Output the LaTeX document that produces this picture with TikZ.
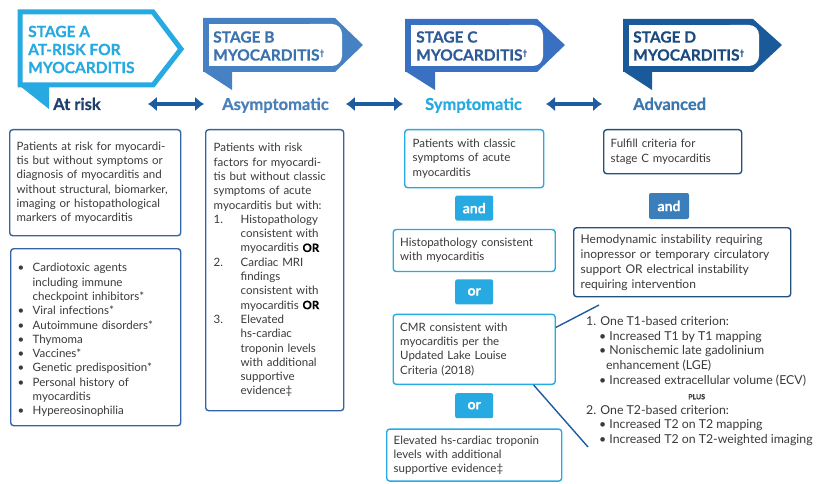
\documentclass[tikz,border=0pt]{standalone}
\usepackage{fontspec}
\setmainfont{Lato}[BoldFeatures={FakeBold=0.5}]
\usepackage{tikz}
\usetikzlibrary{arrows.meta,positioning,backgrounds}
\setlength{\parindent}{0pt}

\definecolor{cyanA}{RGB}{39,170,225}
\definecolor{blueB}{RGB}{70,130,195}
\definecolor{blueC}{RGB}{58,112,194}
\definecolor{blueD}{RGB}{26,90,155}
\definecolor{txtB}{RGB}{60,115,175}
\definecolor{txtC}{RGB}{47,92,153}
\definecolor{txtD}{RGB}{28,75,128}
\definecolor{navy}{RGB}{31,63,110}
\definecolor{asymblue}{RGB}{74,128,184}
\definecolor{advblue}{RGB}{59,119,175}
\definecolor{arrowblue}{RGB}{29,92,158}
\definecolor{boxblue}{RGB}{52,100,166}
\definecolor{boxnavy}{RGB}{34,80,127}
\definecolor{bodytext}{RGB}{58,58,58}
\definecolor{andD}{RGB}{58,127,188}

\newcommand\bodysize{\fontsize{11.5}{14.3}\selectfont}
\newcommand\hangitem[2]{\par\noindent\hangindent=#1\hangafter=1\makebox[#1][l]{#2}}
\newcommand\nl{\hfil\break}
\newcommand\dagsup[1]{\raisebox{5pt}{\fontsize{8}{8}\selectfont #1}}

\tikzset{
  card/.style={draw, rounded corners=3pt, line width=1.4pt, fill=white,
    anchor=north west, inner xsep=7pt, inner ysep=2pt, align=left,
    text=bodytext, font=\bodysize},
  joiner/.style={fill=cyanA, rounded corners=2pt, text=white,
    font=\fontsize{14}{14}\selectfont\bfseries, minimum width=38pt,
    minimum height=25pt, inner sep=0pt},
  stagetext/.style={anchor=west, inner sep=0pt, align=left,
    font=\fontsize{15.5}{18}\selectfont\bfseries},
  phase/.style={anchor=west, inner sep=0pt, text height=12pt, text depth=0pt,
    font=\fontsize{16.5}{16.5}\selectfont\bfseries},
  dbl/.style={arrowblue, line width=4.5pt,
    {Latex[length=9pt,width=15pt]}-{Latex[length=9pt,width=15pt]}},
  pointer/.style={arrowblue, line width=1.4pt},
}

\begin{document}
\begin{tikzpicture}[x=1pt,y=-1pt]
\path[fill=white,use as bounding box] (0,0) rectangle (830,484);

% stage banners
\draw[cyanA, line width=5pt, fill=white] (20,12) -- (153,12) -- (181,49) -- (153,85) -- (20,85) -- cycle;
\fill[cyanA] (17.5,84) -- (49,84) -- (49,109) -- cycle;
\node[stagetext, text=cyanA] (stA) at (28,49.5) {STAGE A\\AT-RISK FOR\\MYOCARDITIS};

\fill[blueB] (203,18) -- (335,18) -- (363,45) -- (335,72) -- (203,72) -- cycle;
\fill[blueB] (203,71) -- (232,71) -- (232,90) -- cycle;
\fill[white] (209,24) rectangle (320,66);
\fill[white, rounded corners=10pt] (300,24) rectangle (342,66);
\node[stagetext, text=txtB] (stB) at (213,46) {STAGE B\\MYOCARDITIS\dagsup{†}};

\fill[blueC] (405,19) -- (537,19) -- (565,45) -- (537,72) -- (405,72) -- cycle;
\fill[blueC] (405,71) -- (435,71) -- (435,90) -- cycle;
\fill[white] (411,25) rectangle (520,66);
\fill[white, rounded corners=10pt] (500,25) rectangle (543,66);
\node[stagetext, text=txtC] (stC) at (416,46) {STAGE C\\MYOCARDITIS\dagsup{†}};

\fill[blueD] (623,19) -- (753,19) -- (782,45) -- (753,72) -- (623,72) -- cycle;
\fill[blueD] (623,71) -- (652,71) -- (652,90) -- cycle;
\fill[white] (629,25) rectangle (740,66);
\fill[white, rounded corners=10pt] (720,25) rectangle (759,66);
\node[stagetext, text=txtD] (stD) at (633,46) {STAGE D\\MYOCARDITIS\dagsup{†}};

% phases
\node[phase, text=navy] (atrisk) at (53,104) {At risk};
\node[phase, text=asymblue] (asym) at (222,104) {Asymptomatic};
\node[phase, text=cyanA] (sym) at (425,104) {Symptomatic};
\node[phase, text=advblue] (adv) at (633,104) {Advanced};
\draw[dbl] ([xshift=47pt]atrisk.east) -- ([xshift=-18pt]asym.west);
\draw[dbl] ([xshift=17pt]asym.east) -- ([xshift=-22pt]sym.west);
\draw[dbl] ([xshift=24pt]sym.east) -- ([xshift=-31pt]adv.west);

% stage A
\node[card, draw=boxblue, text width=157pt, minimum height=106pt] (a1) at (9,129)
  {\mbox{Patients at risk for myocardi-}\\\mbox{tis but without symptoms or}\\\mbox{diagnosis of myocarditis and}\\\mbox{without structural, biomarker,}\\\mbox{imaging or histopathological}\\markers of myocarditis};
\node[card, draw=boxblue, text width=156pt, minimum height=177pt] (a2) at (10,248)
  {\hangitem{15pt}{\textbullet}Cardiotoxic agents\nl including immune\nl checkpoint inhibitors*
   \hangitem{15pt}{\textbullet}Viral infections*
   \hangitem{15pt}{\textbullet}Autoimmune disorders*
   \hangitem{15pt}{\textbullet}Thymoma
   \hangitem{15pt}{\textbullet}Vaccines*
   \hangitem{15pt}{\textbullet}Genetic predisposition*
   \hangitem{15pt}{\textbullet}Personal history of\nl myocarditis
   \hangitem{15pt}{\textbullet}Hypereosinophilia\par};

% stage B
\node[card, draw=boxblue, inner xsep=8pt, text width=122pt, minimum height=281pt] (b1) at (205,129)
  {Patients with risk\\factors for myocardi-\\tis but without classic\\symptoms of acute\\myocarditis but with:
   \hangitem{27pt}{1.}Histopathology\nl consistent with\nl myocarditis \textbf{\color{black}OR}
   \hangitem{27pt}{2.}Cardiac MRI\nl findings\nl consistent with\nl myocarditis \textbf{\color{black}OR}
   \hangitem{27pt}{3.}Elevated\nl hs-cardiac\nl troponin levels\nl with additional\nl supportive\nl evidence‡\par};

% stage C
\node[card, draw=cyanA, inner xsep=8pt, text width=123pt, minimum height=58pt] (c1) at (404,129)
  {Patients with classic\\symptoms of acute\\myocarditis};
\node[joiner] (andC) [below=7pt of c1] {and};
\node[card, draw=cyanA, text width=148pt, minimum height=42pt] (c2) [below=8pt of andC]
  {Histopathology consistent\\with myocarditis};
\node[joiner] (orC) [below=7pt of c2] {or};
\node[card, draw=cyanA, text width=148pt, minimum height=70pt] (c3) [below=9pt of orC]
  {CMR consistent with\\myocarditis per the\\Updated Lake Louise\\Criteria (2018)};
\node[joiner] (orCC) [below=8pt of c3] {or};
\node[card, draw=cyanA, text width=161pt, minimum height=52pt] (c4) [below=10pt of orCC]
  {Elevated hs-cardiac troponin\\levels with additional\\supportive evidence‡};
\begin{scope}[on background layer]
  \draw[arrowblue, line width=4pt] (c1) -- (andC) -- (c2) -- (orC) -- (c3) -- (orCC) -- (c4);
\end{scope}

% CMR criteria
\node[anchor=north west, inner sep=0pt, align=left, text=bodytext,
  font=\fontsize{12.3}{14.8}\selectfont] (crit) at (586,316)
  {1. One T1-based criterion:\\
   \hspace*{13pt}\textbullet\ Increased T1 by T1 mapping\\
   \hspace*{13pt}\textbullet\ Nonischemic late gadolinium\\
   \hspace*{20pt}enhancement (LGE)\\
   \hspace*{13pt}\textbullet\ Increased extracellular volume (ECV)\\
   \hspace*{102pt}{\fontsize{7}{7}\selectfont\bfseries PLUS}\\
   2. One T2-based criterion:\\
   \hspace*{13pt}\textbullet\ Increased T2 on T2 mapping\\
   \hspace*{13pt}\textbullet\ Increased T2 on T2-weighted imaging};
\coordinate (t1end) at (599,305);
\coordinate (t2end) at (588,447);
\draw[pointer] (c3.15) -- (t1end);
\draw[pointer] (c3.-31) -- (t2end);

% stage D
\node[card, draw=boxnavy, text width=124pt, minimum height=44pt] (d1) at (603,129)
  {Fulfill criteria for\\stage C myocarditis};
\node[joiner, fill=andD, minimum width=40pt, minimum height=26pt] (andDD) at (669,206) {and};
\node[card, draw=boxnavy, font=\fontsize{12}{15}\selectfont, text width=203pt, minimum height=69pt] (d2) at (573,227)
  {Hemodynamic instability requiring\\inopressor or temporary circulatory\\support OR electrical instability\\requiring intervention};
\end{tikzpicture}
\end{document}
